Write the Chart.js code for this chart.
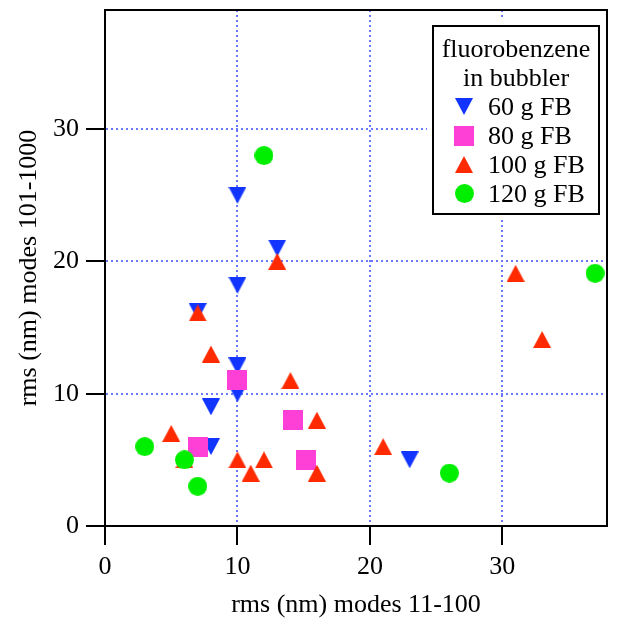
<!DOCTYPE html>
<html>
<head>
<meta charset="utf-8">
<title>rms modes 11-100 vs 101-1000</title>
<script src="https://cdn.jsdelivr.net/npm/chart.js@4.4.1/dist/chart.umd.min.js"></script>
<style>
  html, body { margin: 0; padding: 0; background: #fff; }
  #wrap { position: relative; width: 624px; height: 630px; }
  #legend {
    position: absolute; left: 432px; top: 25px; width: 168px; height: 190px;
    box-sizing: border-box; border: 2px solid #000; background: #fff;
    box-shadow: 0 0 0 5px #fff;
    font: 26px/29px "Liberation Serif", "Times New Roman", serif; color: #000;
    padding-top: 7px;
  }
  #legend .ttl { text-align: center; white-space: nowrap; }
  #legend .row { display: flex; align-items: center; height: 29px; white-space: nowrap; }
  #legend .mk { width: 20px; margin-left: 20px; margin-right: 14px; display: flex; justify-content: center; }
</style>
</head>
<body>
<div id="wrap">
  <canvas id="chart" width="624" height="630"></canvas>
  <div id="legend"></div>
</div>

<script>
// values (x = rms modes 11-100, y = rms modes 101-1000)
const fb60X = [10, 13, 10, 7, 10, 10, 8, 8, 23];
const fb60Y = [25, 21, 18.2, 16.2, 12.1, 10, 9, 6, 5];
const fb80X = [10, 7, 14.2, 15.2];
const fb80Y = [11, 6, 8, 5];
const fb100X = [7, 13, 8, 14, 5, 16, 6, 10, 11, 12, 16, 21, 31, 33];
const fb100Y = [16.1, 20, 13, 11, 7, 8, 5, 5, 4, 5, 4, 6, 19.1, 14.1];
const fb120X = [12, 3, 6, 7, 26, 37];
const fb120Y = [28, 6, 5, 3, 4, 19.1];

const seriesLabels = ['60 g FB', '80 g FB', '100 g FB', '120 g FB'];
const legendTitle = ['fluorobenzene', 'in bubbler'];
const xTitle = 'rms (nm) modes 11-100';
const yTitle = 'rms (nm) modes 101-1000';

const BLUE = '#1234ff', PINK = '#ff40d6', RED = '#ff2a00', GREEN = '#00ee00';
const GRID = '#6a78ff';
const serif = '"Liberation Serif", "Times New Roman", serif';

// marker images, centred on their bounding box like the original plot
function makeMarker(shape, color) {
  const c = document.createElement('canvas');
  const g = c.getContext('2d');
  if (shape === 'up' || shape === 'down') {
    c.width = 18; c.height = 17;
    g.fillStyle = color;
    g.beginPath();
    if (shape === 'up') { g.moveTo(9, 0); g.lineTo(18, 17); g.lineTo(0, 17); }
    else { g.moveTo(0, 0); g.lineTo(18, 0); g.lineTo(9, 17); }
    g.closePath(); g.fill();
  } else if (shape === 'square') {
    c.width = 20; c.height = 20;
    g.fillStyle = color; g.fillRect(0, 0, 20, 20);
  } else {
    c.width = 19; c.height = 19;
    g.fillStyle = color; g.beginPath(); g.arc(9.5, 9.5, 9.5, 0, Math.PI * 2); g.fill();
  }
  return c;
}
const shapes = ['down', 'square', 'up', 'circle'];
const colors = [BLUE, PINK, RED, GREEN];

function pts(xs, ys) { return xs.map((x, i) => ({x: x, y: ys[i]})); }
const allData = [pts(fb60X, fb60Y), pts(fb80X, fb80Y), pts(fb100X, fb100Y), pts(fb120X, fb120Y)];

const datasets = allData.map((d, i) => ({
  label: seriesLabels[i],
  data: d,
  pointStyle: makeMarker(shapes[i], colors[i]),
  pointRadius: 9,
  backgroundColor: colors[i],
  borderColor: colors[i],
  showLine: false,
  order: 3 - i
}));

const framePlugin = {
  id: 'frame',
  beforeDatasetsDraw(chart) {
    const {ctx, chartArea: a} = chart;
    ctx.save();
    ctx.strokeStyle = '#000';
    ctx.lineWidth = 2;
    ctx.strokeRect(a.left, a.top, a.right - a.left, a.bottom - a.top);
    ctx.restore();
  }
};

function axis(max, title, fitFn, titlePad) {
  return {
    type: 'linear', min: 0, max: max,
    ticks: { stepSize: 10, includeBounds: false, color: '#000', padding: 7, maxRotation: 0,
             font: {family: serif, size: 26} },
    grid: { color: ctx => (ctx.tick && ctx.tick.value === 0) ? 'rgba(0,0,0,0)' : GRID,
            lineWidth: 2, tickColor: '#000', tickWidth: 2, tickLength: 19 },
    border: { display: true, color: '#000', width: 2, dash: [2, 3] },
    title: { display: true, text: title, color: '#000', font: {family: serif, size: 26}, padding: titlePad },
    afterFit: fitFn
  };
}

const chart = new Chart(document.getElementById('chart'), {
  type: 'scatter',
  data: { datasets: datasets },
  options: {
    responsive: false,
    animation: false,
    events: [],
    layout: { padding: {top: 9, right: 17, bottom: 0, left: 0} },
    scales: {
      x: axis(37.9, xTitle, s => { s.height = 104; s.paddingLeft = 0; s.paddingRight = 0; }, {top: 0, bottom: 9}),
      y: axis(39, yTitle, s => { s.width = 105; s.paddingTop = 0; s.paddingBottom = 0; }, {top: 14, bottom: 0})
    },
    plugins: { legend: { display: false }, tooltip: { enabled: false } }
  },
  plugins: [framePlugin]
});

// legend box built from the chart's datasets
const leg = document.getElementById('legend');
legendTitle.forEach(t => {
  const d = document.createElement('div'); d.className = 'ttl'; d.textContent = t; leg.appendChild(d);
});
chart.data.datasets.forEach((ds, i) => {
  const row = document.createElement('div'); row.className = 'row';
  const mk = document.createElement('span'); mk.className = 'mk';
  mk.appendChild(makeMarker(shapes[i], colors[i]));
  const tx = document.createElement('span'); tx.textContent = ds.label;
  row.appendChild(mk); row.appendChild(tx);
  leg.appendChild(row);
});
</script>
</body>
</html>
